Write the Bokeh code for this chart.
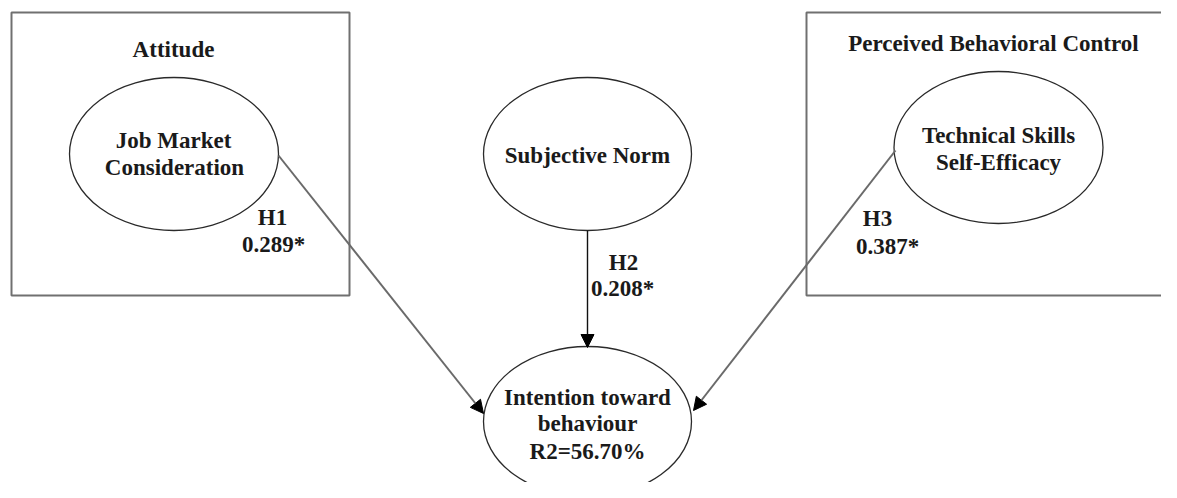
from bokeh.plotting import figure
from bokeh.models import Range1d, Arrow, NormalHead
from bokeh.core.properties import value
from bokeh.embed import file_html
from bokeh.resources import INLINE

# ---- data (labels and estimates) ----
constructs = ["Attitude", "Perceived Behavioral Control"]
node_labels = ["Job Market\nConsideration", "Subjective Norm", "Technical Skills\nSelf-Efficacy",
               "Intention toward\nbehaviour"]
hypotheses = ["H1", "H2", "H3"]
path_coefs = [0.289, 0.208, 0.387]
r2_percent = 56.70

# ---- layout (image pixel coordinates) ----
W, H = 1161, 482
boxes = {"left": [11, 349, 12, 295], "right": [806, 1190, 12, 295]}
box_title_pos = [(173, 49), (993, 43)]
nodes = [(173.5, 153.5), (587, 153.5), (998, 147), (587, 421)]
node_w = [209, 208, 209, 208]
node_h = [153, 153, 152, 150]
node_text_pos = [[(173, 140), (174, 167)], [(587, 155)], [(998, 135), (998, 162)],
                 [(587, 397), (587, 423), (587, 451)]]
edges = [((278, 155), (483, 413)), ((587, 230), (587, 347)), ((895, 150), (693, 410))]
edge_colors = ["#6a6a6a", "#111111", "#6a6a6a"]
edge_widths = [2, 1.4, 2]
label_pos = [[(272, 217), (273, 244)], [(623, 262), (622, 288)], [(877, 218), (887, 246)]]

FONT = value("Liberation Serif")
FS = "23px"

p = figure(width=W, height=H, output_backend="svg", toolbar_location=None,
           x_range=Range1d(0, W), y_range=Range1d(H, 0),
           min_border=0, outline_line_color=None)
p.axis.visible = False
p.grid.visible = False
p.background_fill_color = "white"

# construct boxes
bl = [boxes["left"], boxes["right"]]
p.quad(left=[b[0] for b in bl], right=[b[1] for b in bl], top=[b[2] for b in bl],
       bottom=[b[3] for b in bl], fill_color=None, line_color="#707070", line_width=2)

p.text(x=[t[0] for t in box_title_pos], y=[t[1] for t in box_title_pos], text=constructs,
       text_font=FONT, text_font_size=FS, text_font_style="bold", text_color="#1a1a1a",
       text_align="center", text_baseline="middle")

# edges
for (s, e), c, lw in zip(edges, edge_colors, edge_widths):
    p.add_layout(Arrow(end=NormalHead(size=13, fill_color="black", line_color="black"),
                       x_start=s[0], y_start=s[1], x_end=e[0], y_end=e[1],
                       line_color=c, line_width=lw))

# ellipses
p.ellipse(x=[n[0] for n in nodes], y=[n[1] for n in nodes], width=node_w, height=node_h,
          fill_color="white", line_color="#2a2a2a", line_width=1.3)

# node texts
tx, ty, tt = [], [], []
for label, poss in zip(node_labels, node_text_pos):
    lines = label.split("\n")
    if label.startswith("Intention"):
        lines = lines + [f"R2={r2_percent:.2f}%"]
    for ln, (x, y) in zip(lines, poss):
        tx.append(x); ty.append(y); tt.append(ln)
p.text(x=tx, y=ty, text=tt, text_font=FONT, text_font_size=FS, text_font_style="bold",
       text_color="#1a1a1a", text_align="center", text_baseline="middle")

# hypothesis labels
lx, ly, lt = [], [], []
for h, c, poss in zip(hypotheses, path_coefs, label_pos):
    lx += [poss[0][0], poss[1][0]]
    ly += [poss[0][1], poss[1][1]]
    lt += [h, f"{c:.3f}*"]
p.text(x=lx, y=ly, text=lt, text_font=FONT, text_font_size=FS, text_font_style="bold",
       text_color="#1a1a1a", text_align="center", text_baseline="middle")

open("out.html", "w").write(file_html(p, INLINE))
